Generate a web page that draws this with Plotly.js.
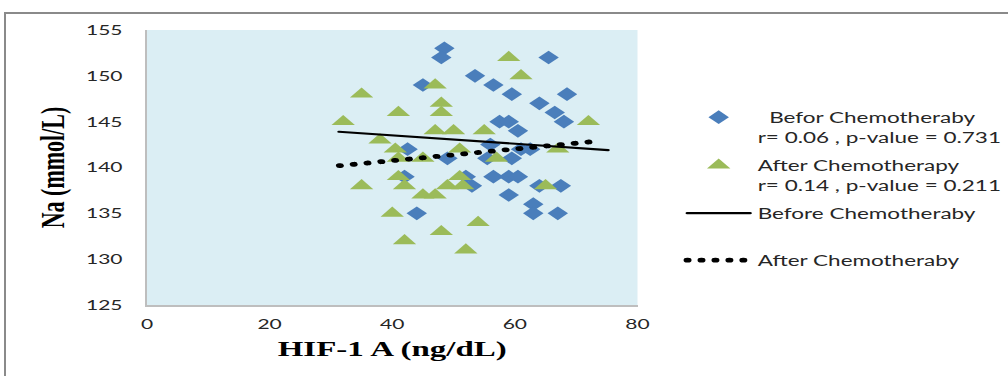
<!DOCTYPE html>
<html>
<head>
<meta charset="utf-8">
<script src="https://cdn.plot.ly/plotly-3.0.1.min.js"></script>
<style>
  html, body { margin: 0; padding: 0; background: #ffffff; overflow: hidden; }
  #wrap { position: relative; width: 1008px; height: 376px; overflow: hidden; background: #fff; }
  #frame { position: absolute; left: 4px; top: 12px; width: 1010px; height: 380px; border: 2px solid #8a8a8a; box-sizing: border-box; pointer-events: none; }
  #chart { position: absolute; left: 0; top: 0; width: 672px; height: 376px; transform: scaleX(1.5); transform-origin: 0 0; }
  path.js-line { stroke-linecap: round; }
</style>
</head>
<body>
<div id="wrap">
  <div id="chart"></div>
  <div id="frame"></div>
</div>
<script>
// HIF-1 A (ng/dL) vs Na (mmol/L)
const beforeX = [48.5, 48, 65.5, 53.5, 56.5, 45, 59.5, 68.5, 64, 66.5, 57.5, 59, 68, 60.5, 56, 42.5, 62.5, 61, 49, 55.5, 59.5, 42, 52, 56.5, 59, 60.5, 53, 64, 67.5, 59, 63, 44, 63, 67];
const beforeY = [153, 152, 152, 150, 149, 149, 148, 148, 147, 146, 145, 145, 145, 144, 142.5, 142, 142, 142, 141, 141, 141, 139, 139, 139, 139, 139, 138, 138, 138, 137, 136, 135, 135, 135];

const afterX = [59, 61, 47, 35, 48, 48, 41, 32, 72, 47, 50, 55, 38, 40.5, 51, 67, 41, 45, 57, 41, 51, 35, 42, 49, 51.5, 65, 45, 47, 40, 54, 48, 42, 52];
const afterY = [152, 150, 149, 148, 147, 146, 146, 145, 145, 144, 144, 144, 143, 142, 142, 142, 141, 141, 141, 139, 139, 138, 138, 138, 138, 138, 137, 137, 135, 134, 133, 132, 131];

// Trendline end points
const beforeTrendX = [31.3, 75.2];
const beforeTrendY = [143.9, 141.9];
const afterTrendX = [31.4, 72.3];
const afterTrendY = [140.2, 142.8];

const xTicks = [0, 20, 40, 60, 80];
const yTicks = [125, 130, 135, 140, 145, 150, 155];

const nb = '\u00a0';
const names = {
  before: nb + nb + 'Befor Chemotheraby<br>r= 0.06 , p-value = 0.731',
  after: 'After Chemotherapy<br>r= 0.14 , p-value = 0.211',
  beforeLine: 'Before Chemotheraby',
  afterLine: 'After Chemotheraby'
};

const traces = [
  { x: beforeX, y: beforeY, type: 'scatter', mode: 'markers', name: names.before, legendgroup: 'a',
    marker: { symbol: 'diamond', size: 10.5, color: '#4A7EBB' } },
  { x: afterX, y: afterY, type: 'scatter', mode: 'markers', name: names.after, legendgroup: 'b',
    marker: { symbol: 'triangle-up', size: 13.5, color: '#9BBB59' } },
  { x: beforeTrendX, y: beforeTrendY, type: 'scatter', mode: 'lines', name: names.beforeLine, legendgroup: 'c',
    line: { color: '#000000', width: 2.2 } },
  { x: afterTrendX, y: afterTrendY, type: 'scatter', mode: 'lines', name: names.afterLine, legend: 'legend2',
    line: { color: '#000000', width: 4.8, dash: '0.5px,8.8px' } }
];

const tickFont = { family: 'Lato, sans-serif', size: 14, color: '#262626' };
const titleFont = { family: '"Liberation Serif", "Times New Roman", serif', size: 22, color: '#000000', weight: 'bold' };
const legendFont = { family: 'Lato, sans-serif', size: 15, color: '#262626' };

const layout = {
  width: 672, height: 376,
  autosize: false,
  margin: { l: 98, r: 247.3, t: 30, b: 71, pad: 0, autoexpand: false },
  paper_bgcolor: 'rgba(0,0,0,0)',
  plot_bgcolor: '#DBEEF4',
  showlegend: true,
  xaxis: {
    range: [0, 80], tickvals: xTicks, ticks: '', showgrid: false, zeroline: false,
    showline: true, linecolor: '#BEBEBE', linewidth: 1.5, mirror: false,
    tickfont: tickFont, ticklabelstandoff: 6, automargin: false,
    title: { text: 'HIF-1 A (ng/dL)', font: titleFont, standoff: 9 }
  },
  yaxis: {
    range: [125, 155], tickvals: yTicks, ticks: '', showgrid: false, zeroline: false,
    showline: true, linecolor: '#BEBEBE', linewidth: 1.5, automargin: false,
    tickfont: tickFont, ticklabelstandoff: 12,
    title: { text: 'Na (mmol/L)', font: titleFont, standoff: 8 }
  },
  legend: {
    x: 1.086, xanchor: 'left', y: 0.742, yanchor: 'top',
    font: legendFont, itemwidth: 42, tracegroupgap: 6, valign: 'top',
    bgcolor: 'rgba(0,0,0,0)', borderwidth: 0
  },
  legend2: {
    x: 1.086, xanchor: 'left', y: 0.222, yanchor: 'top',
    font: legendFont, itemwidth: 42,
    bgcolor: 'rgba(0,0,0,0)', borderwidth: 0
  }
};

Plotly.newPlot('chart', traces, layout, { staticPlot: true, displayModeBar: false });
</script>
</body>
</html>
